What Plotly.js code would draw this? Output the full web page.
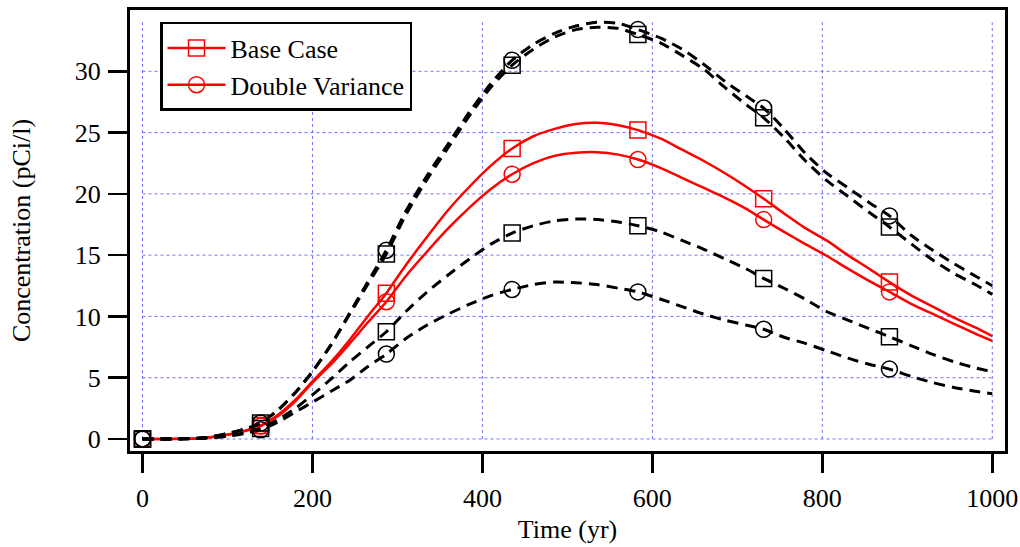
<!DOCTYPE html>
<html>
<head>
<meta charset="utf-8">
<script src="https://cdn.plot.ly/plotly-3.0.1.min.js"></script>
<style>html,body{margin:0;padding:0;background:#fff;}#chart{width:1020px;height:547px;}</style>
</head>
<body>
<div id="chart"></div>
<script>
// ---- data ----
const time = [0, 25, 50, 75, 100, 120, 139, 160, 180, 200, 222, 244, 265, 287, 310, 335, 360, 385, 410, 435, 460, 485, 510, 535, 560, 583, 610, 635, 660, 685, 710, 731, 755, 780, 805, 830, 855, 879, 905, 930, 955, 980, 1000];
const markerTimes = [0, 139, 287, 435, 583, 731, 879];

const baseCase = [0, 0, 0.01, 0.1, 0.35, 0.65, 1.1, 2.0, 3.2, 4.7, 6.3, 8.1, 10.0, 11.9, 14.2, 16.5, 18.7, 20.6, 22.3, 23.7, 24.7, 25.3, 25.7, 25.8, 25.6, 25.2, 24.5, 23.6, 22.7, 21.7, 20.6, 19.6, 18.4, 17.2, 16.2, 15.0, 13.9, 12.8, 11.7, 10.8, 9.9, 9.1, 8.4];
const doubleVariance = [0, 0, 0.01, 0.1, 0.35, 0.65, 1.05, 1.9, 3.1, 4.6, 6.1, 7.8, 9.5, 11.2, 13.3, 15.3, 17.2, 18.9, 20.4, 21.6, 22.5, 23.1, 23.35, 23.4, 23.2, 22.8, 22.1, 21.3, 20.5, 19.7, 18.8, 17.9, 16.9, 15.9, 14.95, 13.9, 12.9, 12.0, 11.0, 10.2, 9.4, 8.6, 8.0];
const upperBase = [0, 0, 0.02, 0.12, 0.45, 0.8, 1.3, 2.4, 3.8, 5.5, 7.7, 10.2, 12.6, 15.1, 18.3, 21.2, 23.8, 26.4, 28.7, 30.5, 31.8, 32.8, 33.4, 33.6, 33.5, 33.0, 32.3, 31.3, 30.2, 28.7, 27.3, 26.2, 24.6, 22.7, 21.1, 19.8, 18.5, 17.3, 15.9, 14.6, 13.5, 12.6, 11.8];
const upperDouble = [0, 0, 0.02, 0.12, 0.45, 0.8, 1.3, 2.4, 3.8, 5.5, 7.7, 10.3, 12.8, 15.4, 18.6, 21.5, 24.1, 26.7, 29.0, 30.9, 32.2, 33.1, 33.7, 34.0, 33.9, 33.4, 32.7, 31.8, 30.6, 29.2, 28.0, 27.0, 25.3, 23.3, 21.7, 20.5, 19.3, 18.2, 16.6, 15.4, 14.3, 13.3, 12.5];
const lowerBase = [0, 0, 0.01, 0.08, 0.25, 0.5, 0.85, 1.6, 2.5, 3.6, 4.9, 6.3, 7.5, 8.75, 10.4, 12.0, 13.4, 14.7, 15.9, 16.8, 17.4, 17.8, 17.95, 17.9, 17.7, 17.4, 16.9, 16.2, 15.5, 14.7, 13.9, 13.1, 12.3, 11.4, 10.4, 9.7, 9.0, 8.35, 7.6, 6.9, 6.3, 5.8, 5.5];
const lowerDouble = [0, 0, 0.01, 0.07, 0.22, 0.45, 0.75, 1.4, 2.2, 3.0, 3.9, 4.8, 5.9, 6.93, 8.2, 9.3, 10.2, 11.0, 11.7, 12.2, 12.6, 12.8, 12.75, 12.6, 12.3, 12.0, 11.4, 10.8, 10.2, 9.7, 9.3, 8.95, 8.3, 7.8, 7.2, 6.6, 6.1, 5.7, 5.1, 4.6, 4.2, 3.9, 3.7];

const seriesNames = ['Base Case', 'Double Variance'];
const xTicks = [0, 200, 400, 600, 800, 1000];
const yTicks = [0, 5, 10, 15, 20, 25, 30];

// ---- styling ----
const FONT = 'Liberation Serif, Times New Roman, serif';
const RED = '#ff0000';
const BLACK = '#000000';
const DASH = '11px,7px';
const MSIZE = 16;

const series = [
  {y: baseCase, color: RED, dash: 'solid', width: 2.5, symbol: 'square-open'},
  {y: doubleVariance, color: RED, dash: 'solid', width: 2.5, symbol: 'circle-open'},
  {y: upperBase, color: BLACK, dash: DASH, width: 3, symbol: 'square-open'},
  {y: upperDouble, color: BLACK, dash: DASH, width: 3, symbol: 'circle-open'},
  {y: lowerBase, color: BLACK, dash: DASH, width: 3, symbol: 'square-open'},
  {y: lowerDouble, color: BLACK, dash: DASH, width: 3, symbol: 'circle-open'}
];

const idx = markerTimes.map(t => time.indexOf(t));
const traces = [];
series.forEach(s => {
  traces.push({
    type: 'scatter', mode: 'lines', x: time, y: s.y, showlegend: false,
    line: {color: s.color, width: s.width, dash: s.dash, shape: 'spline', smoothing: 0.7}, hoverinfo: 'skip'
  });
});
series.forEach(s => {
  traces.push({
    type: 'scatter', mode: 'markers', x: markerTimes, y: idx.map(i => s.y[i]), showlegend: false,
    marker: {symbol: s.symbol, size: MSIZE, color: s.color, line: {color: s.color, width: 1.5}}, hoverinfo: 'skip'
  });
});
// legend-only entries
[['square-open', seriesNames[0]], ['circle-open', seriesNames[1]]].forEach(([sym, name]) => {
  traces.push({
    type: 'scatter', mode: 'lines+markers', x: [null], y: [null], name: name,
    line: {color: RED, width: 2.5},
    marker: {symbol: sym, size: MSIZE, color: RED, line: {color: RED, width: 1.5}}
  });
});

const gridTop = 34.0;
const gridStyle = {color: '#7070ff', width: 1, dash: 'dot'};
const shapes = [];
xTicks.forEach(v => shapes.push({type: 'line', xref: 'x', yref: 'y', x0: v, x1: v, y0: yTicks[0], y1: gridTop, line: gridStyle, layer: 'below'}));
yTicks.forEach(v => shapes.push({type: 'line', xref: 'x', yref: 'y', x0: xTicks[0], x1: xTicks[xTicks.length - 1], y0: v, y1: v, line: gridStyle, layer: 'below'}));

const axisCommon = {
  ticks: 'outside', ticklen: 19, tickwidth: 2.5, tickcolor: BLACK,
  showline: true, mirror: true, linewidth: 3, linecolor: BLACK,
  showgrid: false, zeroline: false, automargin: false,
  tickfont: {family: FONT, size: 26, color: BLACK}
};

const layout = {
  width: 1020, height: 547,
  margin: {l: 130, r: 15, t: 10, b: 96},
  paper_bgcolor: '#ffffff', plot_bgcolor: '#ffffff',
  font: {family: FONT, size: 26, color: BLACK},
  xaxis: Object.assign({}, axisCommon, {
    range: [-14.7, 1015], tickvals: xTicks, ticktext: xTicks.map(String), ticklabelstandoff: 3,
    title: {text: 'Time (yr)', font: {family: FONT, size: 26, color: BLACK}, standoff: 8}
  }),
  yaxis: Object.assign({}, axisCommon, {
    range: [-0.98, 35.0], tickvals: yTicks, ticktext: yTicks.map(String), ticklabelstandoff: 2,
    title: {text: 'Concentration (pCi/l)', font: {family: FONT, size: 26, color: BLACK}, standoff: 37}
  }),
  legend: {
    x: 0.0343, y: 0.9728, xanchor: 'left', yanchor: 'top',
    bgcolor: '#ffffff', bordercolor: BLACK, borderwidth: 2.5,
    font: {family: FONT, size: 26, color: BLACK},
    itemwidth: 58, tracegroupgap: 0
  },
  shapes: shapes,
  showlegend: true
};

Plotly.newPlot('chart', traces, layout, {displayModeBar: false, staticPlot: true});
</script>
</body>
</html>
